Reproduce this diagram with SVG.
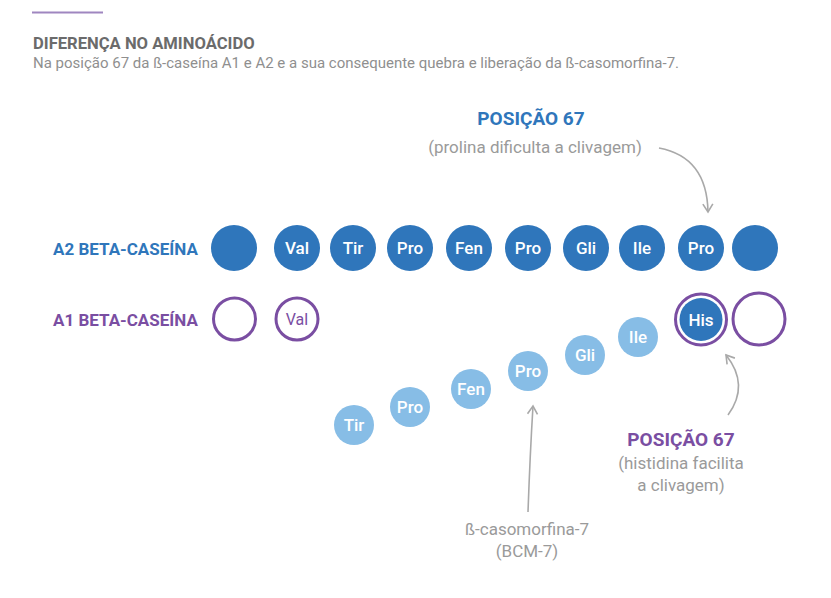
<svg xmlns="http://www.w3.org/2000/svg" width="831" height="598" viewBox="0 0 831 598">
<defs>
<style>
.t{font-family:Roboto,"Liberation Sans",sans-serif}
.title{font-weight:700;font-size:16.6px;fill:#6b6b6b}
.sub{font-size:15px;fill:#8f8f8f}
.pos{font-weight:700;font-size:19px;text-anchor:middle}
.note{font-size:17px;fill:#9a9a9a;text-anchor:middle}
.lbl{font-weight:700;font-size:17px}
.blue{fill:#2f76bb}
.purple{fill:#7a4ea2}
.dark{fill:#2f76bb}
.light{fill:#87bde6}
.ring{fill:#fff;stroke:#7a4ea2;stroke-width:3}
.aa{font-weight:500;font-size:17px;fill:#fff;text-anchor:middle}
.aa1{font-size:16px;fill:#7a4ea2;text-anchor:middle}
.conn{fill:none;stroke:#a9a9a9;stroke-width:1.6}
</style>
<marker id="arr" viewBox="0 0 12 12" refX="10" refY="6" markerWidth="12" markerHeight="12" markerUnits="userSpaceOnUse" orient="auto">
<path d="M2,1 L10,6 L2,11" fill="none" stroke="#a9a9a9" stroke-width="1.6"/>
</marker>
</defs>
<rect width="831" height="598" fill="#fff"/>
<line x1="32" y1="12.5" x2="103" y2="12.5" stroke="#9f86c0" stroke-width="2"/>
<text class="t title" x="33" y="49">DIFERENÇA NO AMINOÁCIDO</text>
<text class="t sub" x="33" y="68">Na posição 67 da ß-caseína A1 e A2 e a sua consequente quebra e liberação da ß-casomorfina-7.</text>

<g id="label-a2"><text class="t lbl blue" x="53" y="255">A2 BETA-CASEÍNA</text></g>
<g id="label-a1"><text class="t lbl purple" x="53" y="326">A1 BETA-CASEÍNA</text></g>

<g id="a2-chain">
<g id="a2-0"><circle class="dark" cx="234" cy="248" r="23"/></g>
<g id="a2-val"><circle class="dark" cx="297" cy="248" r="23"/><text class="t aa" x="297" y="254">Val</text></g>
<g id="a2-tir"><circle class="dark" cx="353" cy="248" r="23"/><text class="t aa" x="353" y="254">Tir</text></g>
<g id="a2-pro1"><circle class="dark" cx="410" cy="248" r="23"/><text class="t aa" x="410" y="254">Pro</text></g>
<g id="a2-fen"><circle class="dark" cx="469" cy="248" r="23"/><text class="t aa" x="469" y="254">Fen</text></g>
<g id="a2-pro2"><circle class="dark" cx="528" cy="248" r="23"/><text class="t aa" x="528" y="254">Pro</text></g>
<g id="a2-gli"><circle class="dark" cx="586" cy="248" r="23"/><text class="t aa" x="586" y="254">Gli</text></g>
<g id="a2-ile"><circle class="dark" cx="642" cy="248" r="23"/><text class="t aa" x="642" y="254">Ile</text></g>
<g id="a2-pro67"><circle class="dark" cx="701" cy="248" r="23"/><text class="t aa" x="701" y="254">Pro</text></g>
<g id="a2-end"><circle class="dark" cx="755" cy="248" r="23"/></g>
</g>

<g id="a1-chain">
<g id="a1-0"><circle class="ring" cx="234.5" cy="319" r="21"/></g>
<g id="a1-val"><circle class="ring" cx="297" cy="319" r="21"/><text class="t aa1" x="297" y="324.5">Val</text></g>
<g id="a1-his"><circle class="ring" cx="701" cy="319.5" r="25.5" stroke-width="3.5"/><circle class="dark" cx="701" cy="319.5" r="21.5"/><text class="t aa" x="701" y="325.5">His</text></g>
<g id="a1-end"><circle class="ring" cx="759" cy="319" r="26" stroke-width="3.5"/></g>
</g>

<g id="bcm7">
<g id="b-tir"><circle class="light" cx="354" cy="425" r="20"/><text class="t aa" x="354" y="431">Tir</text></g>
<g id="b-pro1"><circle class="light" cx="410" cy="407" r="20"/><text class="t aa" x="410" y="413">Pro</text></g>
<g id="b-fen"><circle class="light" cx="471" cy="389" r="20"/><text class="t aa" x="471" y="395">Fen</text></g>
<g id="b-pro2"><circle class="light" cx="528" cy="371" r="20"/><text class="t aa" x="528" y="377">Pro</text></g>
<g id="b-gli"><circle class="light" cx="585" cy="355" r="20"/><text class="t aa" x="585" y="361">Gli</text></g>
<g id="b-ile"><circle class="light" cx="638" cy="337" r="20"/><text class="t aa" x="638" y="343">Ile</text></g>
</g>

<g id="note-a2">
<text class="t pos blue" x="531" y="125">POSIÇÃO 67</text>
<text class="t note" x="535" y="153">(prolina dificulta a clivagem)</text>
</g>
<g id="note-a1">
<text class="t pos purple" x="681" y="446">POSIÇÃO 67</text>
<text class="t note" x="681" y="469">(histidina facilita</text>
<text class="t note" x="681" y="491">a clivagem)</text>
</g>
<g id="note-bcm">
<text class="t note" x="527" y="535">ß-casomorfina-7</text>
<text class="t note" x="527" y="557">(BCM-7)</text>
</g>

<g id="connectors">
<path class="conn" d="M659,148 Q707,157 708,212" marker-end="url(#arr)"/>
<path class="conn" d="M728,415 Q750,385 726,355" marker-end="url(#arr)"/>
<path class="conn" d="M528,512 Q530,455 533,406" marker-end="url(#arr)"/>
</g>
</svg>
